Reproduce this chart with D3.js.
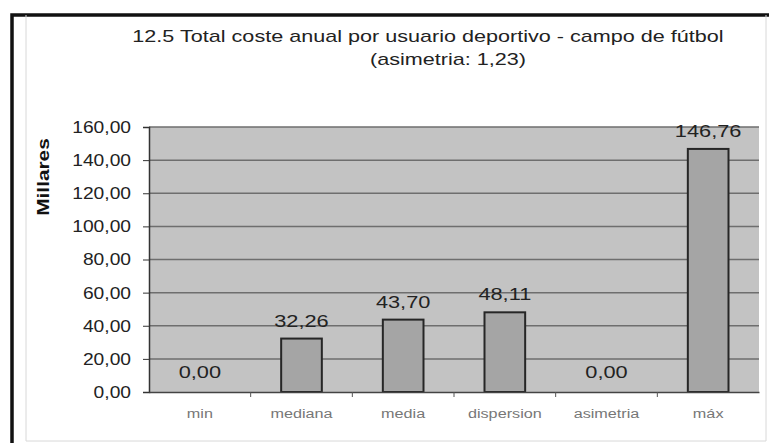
<!DOCTYPE html>
<html>
<head>
<meta charset="utf-8">
<script src="https://cdn.jsdelivr.net/npm/d3@7"></script>
<style>
  body { margin: 0; background: #fff; }
  svg { display: block; font-family: Arial, "Liberation Sans", sans-serif; }
</style>
</head>
<body>
<div class="chart"></div>
<script>
const categories = ["min", "mediana", "media", "dispersion", "asimetria", "máx"];
const values = [0, 32.26, 43.70, 48.11, 0, 146.76];
const yTicks = [0, 20, 40, 60, 80, 100, 120, 140, 160];
const titleLines = ["12.5 Total coste anual por usuario deportivo - campo de fútbol", "(asimetria: 1,23)"];
const yLabel = "Millares";

const W = 769, H = 443;
const margin = {top: 127, left: 149, right: 10, bottom: 51};
const width = W - margin.left - margin.right,
    height = H - margin.top - margin.bottom;

const fmt = v => v.toFixed(2).replace(".", ",");

// the picture looks a bit wide, so text gets stretched sideways
function stretch(sel, k) {
    sel.each(function() {
        const len = this.getComputedTextLength();
        d3.select(this)
            .attr("textLength", len * k)
            .attr("lengthAdjust", "spacingAndGlyphs");
    });
}

const svg = d3.select(".chart")
    .append("svg")
    .attr("width", W)
    .attr("height", H);

// outer frame
svg.append("path")
    .attr("d", `M12,${H} V15 H${W}`)
    .attr("fill", "none")
    .attr("stroke", "#111")
    .attr("stroke-width", 3.5);
svg.append("path")
    .attr("d", `M26,15 V${H - 2} H${W - 3} V15`)
    .attr("fill", "none")
    .attr("stroke", "#d8d8d8")
    .attr("stroke-width", 1);

// title
const title = svg.append("g")
    .selectAll("text")
    .data(titleLines)
    .join("text")
    .attr("x", (d, i) => i === 0 ? 428 : 448)
    .attr("y", (d, i) => 42 + i * 23)
    .attr("text-anchor", "middle")
    .attr("font-size", 17)
    .attr("fill", "#222")
    .text(d => d);
stretch(title, 1.27);

const gr = svg.append("g")
    .attr("transform", `translate(${margin.left},${margin.top})`);

const xScale = d3.scaleBand()
    .domain(categories)
    .range([0, width]);

const yScale = d3.scaleLinear()
    .domain([0, 160])
    .range([height, 0]);

// plot background
gr.append("rect")
    .attr("width", width)
    .attr("height", height)
    .attr("fill", "#c3c3c3");

// gridlines
gr.append("g")
    .selectAll("line")
    .data(yTicks.filter(d => d > 0))
    .join("line")
    .attr("x1", 0)
    .attr("x2", width)
    .attr("y1", d => yScale(d))
    .attr("y2", d => yScale(d))
    .attr("stroke", "#6e6e6e")
    .attr("stroke-width", 1.5);

// bars
const barW = xScale.bandwidth() * 0.4;
gr.selectAll(".bar")
    .data(values)
    .join("rect")
    .attr("class", "bar")
    .attr("x", (d, i) => xScale(categories[i]) + (xScale.bandwidth() - barW) / 2)
    .attr("y", d => yScale(d))
    .attr("width", barW)
    .attr("height", d => height - yScale(d))
    .attr("fill", "#a5a5a5")
    .attr("stroke", "#262626")
    .attr("stroke-width", 2);

// value labels
const lbls = gr.selectAll(".lbl")
    .data(values)
    .join("text")
    .attr("class", "lbl")
    .attr("x", (d, i) => xScale(categories[i]) + xScale.bandwidth() / 2)
    .attr("y", d => yScale(d) - (d === 0 ? 14 : 12))
    .attr("text-anchor", "middle")
    .attr("font-size", 17)
    .attr("fill", "#222")
    .text(d => fmt(d));
stretch(lbls, 1.28);

// axes
const yAxis = d3.axisLeft(yScale)
    .tickValues(yTicks)
    .tickSize(6)
    .tickFormat(d => fmt(d));

const yAxGr = gr.append("g")
    .attr("class", "axis y-axis")
    .call(yAxis);
yAxGr.select(".domain").attr("stroke", "#333").attr("stroke-width", 1.5);
yAxGr.selectAll(".tick line").attr("stroke", "#333");
const yTxt = yAxGr.selectAll(".tick text")
    .attr("font-size", 17)
    .attr("fill", "#222")
    .attr("x", -18);
stretch(yTxt, 1.13);

const xAxis = d3.axisBottom(xScale)
    .tickSize(0)
    .tickSizeOuter(0);

const xAxGr = gr.append("g")
    .attr("class", "axis x-axis")
    .attr("transform", `translate(0,${height})`)
    .call(xAxis);
xAxGr.select(".domain").attr("stroke", "#444").attr("stroke-width", 1.5);
const xTxt = xAxGr.selectAll(".tick text")
    .attr("font-size", 12)
    .attr("fill", "#777")
    .attr("dy", "1.95em");
stretch(xTxt, 1.35);

// category separators below axis
gr.append("g")
    .selectAll("line")
    .data(categories.slice(1))
    .join("line")
    .attr("x1", d => xScale(d))
    .attr("x2", d => xScale(d))
    .attr("y1", height)
    .attr("y2", height + 5)
    .attr("stroke", "#555");

// y title
const yt = svg.append("text")
    .attr("transform", "translate(49,177) rotate(-90)")
    .attr("text-anchor", "middle")
    .attr("font-size", 16)
    .attr("font-weight", "bold")
    .attr("fill", "#111")
    .text(yLabel);
stretch(yt, 1.3);
</script>
</body>
</html>
